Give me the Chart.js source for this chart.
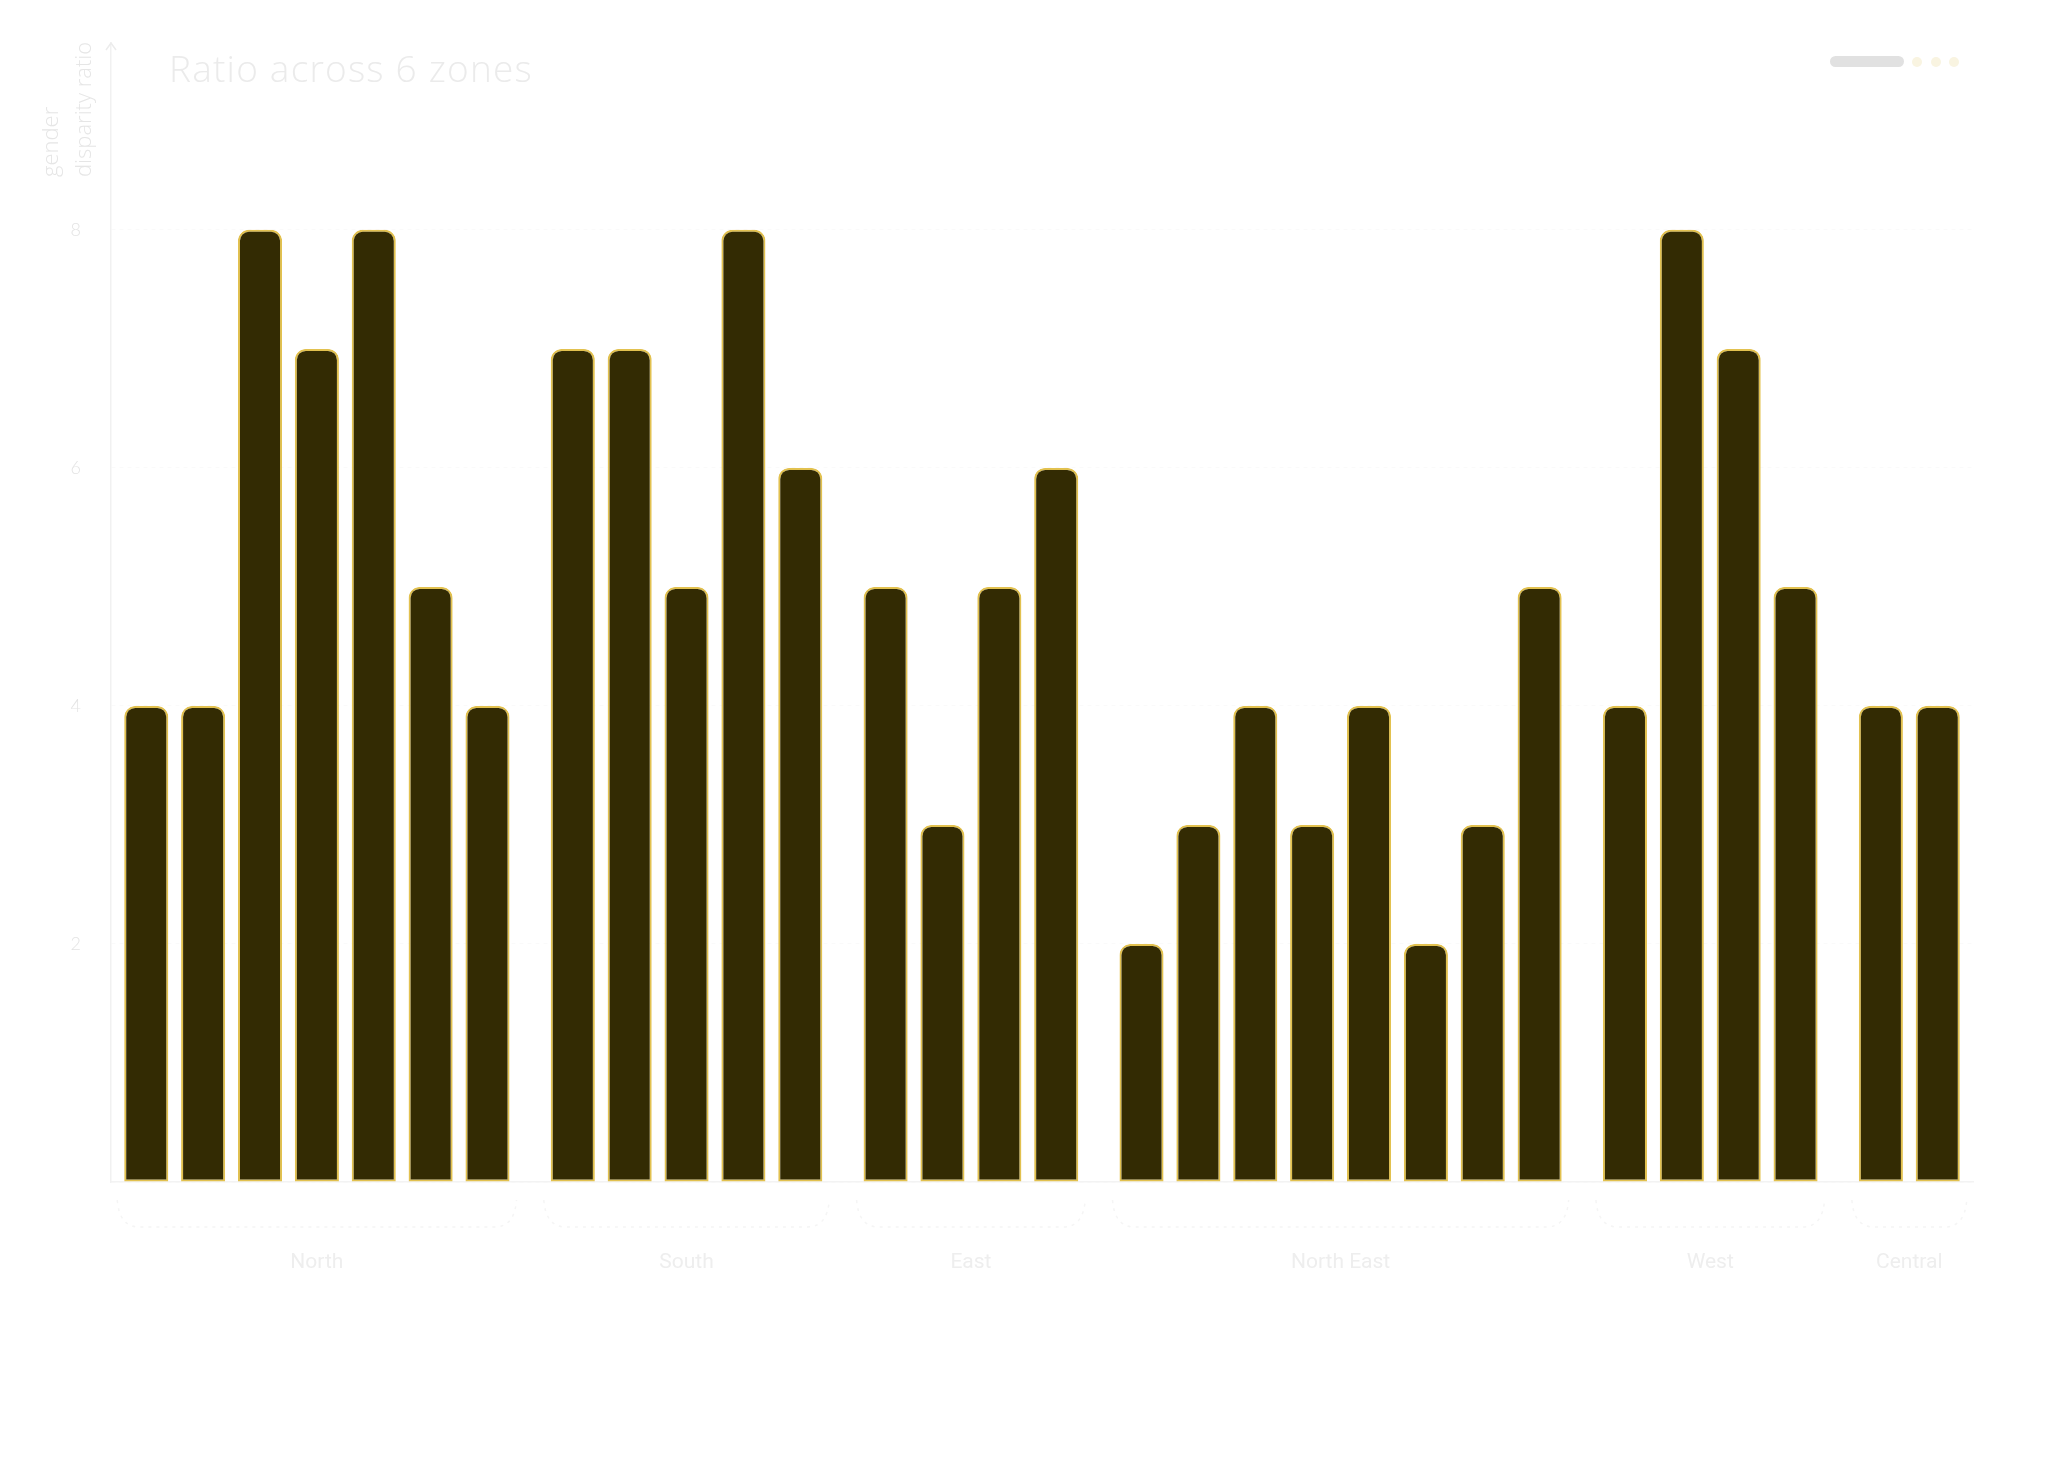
<!DOCTYPE html>
<html>
<head>
<meta charset="utf-8">
<script src="https://cdn.jsdelivr.net/npm/chart.js@4"></script>
<style>
  html, body { margin: 0; padding: 0; background: #ffffff; }
  #wrap { position: relative; width: 2048px; height: 1458px; }
  #title {
    position: absolute; left: 169px; top: 42px;
    font-family: 'Open Sans', sans-serif; font-weight: 300; font-size: 37px;
    color: #ebebeb; letter-spacing: 1.2px;
  }
  .pill { position: absolute; left: 1830px; top: 56px; width: 74px; height: 11px; border-radius: 6px; background: #e1e1e1; }
  .dot { position: absolute; top: 57px; width: 10px; height: 10px; border-radius: 50%; background: #f9f4e1; }
</style>
</head>
<body>
<div id="wrap">
  <canvas id="chart"></canvas>
  <div id="title">Ratio across 6 zones</div>
  <div class="pill"></div>
  <div class="dot" style="left:1912px"></div>
  <div class="dot" style="left:1931px"></div>
  <div class="dot" style="left:1949px"></div>
</div>
<script>
// zones and their values
const zones = ['North', 'South', 'East', 'North East', 'West', 'Central'];
const north = [4, 4, 8, 7, 8, 5, 4];
const south = [7, 7, 5, 8, 6];
const east = [5, 3, 5, 6];
const northEast = [2, 3, 4, 3, 4, 2, 3, 5];
const west = [4, 8, 7, 5];
const central = [4, 4];
const yTicks = [2, 4, 6, 8];
const yTitle = ['gender', 'disparity ratio'];

const zoneValues = [north, south, east, northEast, west, central];

// one bar slot per value, half a slot between zones
const GROUP_GAP = 0.5;
const points = [];
const groups = [];
let idx = 0;
zoneValues.forEach((vals, g) => {
    const first = idx + g * GROUP_GAP;
    vals.forEach(v => {
        points.push({ x: idx + g * GROUP_GAP, y: v });
        idx++;
    });
    groups.push({ name: zones[g], first: first, last: idx - 1 + g * GROUP_GAP });
});
const lastX = points[points.length - 1].x;

// brackets + zone names under the bars
const zonePlugin = {
    id: 'zoneLabels',
    afterDraw(chart) {
        const ctx = chart.ctx;
        const xs = chart.scales.x;
        const half = 22, pad = 7;
        const top = 1200, bottom = 1227, r = 22;
        ctx.save();
        groups.forEach(gr => {
            const x0 = xs.getPixelForValue(gr.first) - half - pad;
            const x1 = xs.getPixelForValue(gr.last) + half + pad;
            ctx.beginPath();
            ctx.setLineDash([3, 5]);
            ctx.strokeStyle = '#f5f5f5';
            ctx.lineWidth = 1.5;
            ctx.moveTo(x0, top);
            ctx.quadraticCurveTo(x0 + 2, bottom, x0 + r, bottom);
            ctx.lineTo(x1 - r, bottom);
            ctx.quadraticCurveTo(x1 - 2, bottom, x1, top);
            ctx.stroke();
            ctx.setLineDash([]);
            ctx.fillStyle = '#eeeeee';
            ctx.font = '21px Roboto, sans-serif';
            ctx.textAlign = 'center';
            ctx.textBaseline = 'middle';
            ctx.fillText(gr.name, (x0 + x1) / 2, 1263);
        });

        // y axis title, rotated, lines start at the same point
        ctx.save();
        ctx.translate(0, 177);
        ctx.rotate(-Math.PI / 2);
        ctx.font = '300 22px "Open Sans", sans-serif';
        ctx.fillStyle = '#e6e6e6';
        ctx.textAlign = 'left';
        ctx.textBaseline = 'middle';
        ctx.fillText(yTitle[0], 0, 52);
        ctx.fillText(yTitle[1], 0, 85);
        ctx.restore();

        // arrow on top of the y axis
        const ax = chart.chartArea.left, ay = chart.chartArea.top;
        ctx.strokeStyle = '#ececec';
        ctx.lineWidth = 1.5;
        ctx.beginPath();
        ctx.moveTo(ax - 5, ay + 7);
        ctx.lineTo(ax, ay);
        ctx.lineTo(ax + 5, ay + 7);
        ctx.stroke();
        ctx.restore();
    }
};

const ctx = document.getElementById('chart').getContext('2d');
new Chart(ctx, {
    type: 'bar',
    data: {
        datasets: [{
            label: 'gender disparity ratio',
            data: points,
            backgroundColor: '#332b03',
            borderColor: '#e2c14f',
            borderWidth: 2,
            borderSkipped: false,
            borderRadius: { topLeft: 11, topRight: 11, bottomLeft: 0, bottomRight: 0 },
            barPercentage: 0.775,
            categoryPercentage: 1
        }]
    },
    options: {
        responsive: true,
        maintainAspectRatio: false,
        animation: false,
        layout: { padding: { top: 43, right: 75, left: 0, bottom: 0 } },
        plugins: {
            legend: { display: false },
            title: { display: false },
            tooltip: { enabled: false }
        },
        scales: {
            x: {
                type: 'linear',
                min: -0.62,
                max: lastX + 0.62,
                offset: false,
                ticks: { display: false },
                grid: { display: false, drawTicks: false },
                border: { display: true, color: '#f3f3f3', width: 1.5 },
                afterFit: s => { s.height = 276; }
            },
            y: {
                min: 0,
                max: 9.57,
                ticks: {
                    stepSize: 2,
                    includeBounds: false,
                    padding: 30,
                    color: '#e4e4e4',
                    font: { family: 'Lato', size: 18, weight: 300 },
                    callback: v => (yTicks.includes(v) ? v : '')
                },
                grid: { color: '#fafafa', drawTicks: false },
                border: { display: true, color: '#f1f1f1', width: 1.5, dash: [4, 4] },
                afterFit: s => { s.width = 111; }
            }
        }
    },
    plugins: [zonePlugin]
});
</script>
</body>
</html>
